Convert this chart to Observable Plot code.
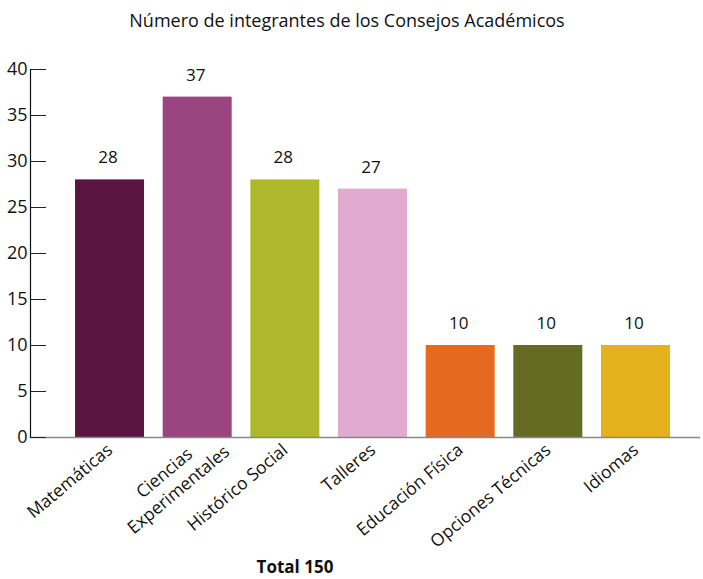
<!DOCTYPE html>
<html>
<head>
<meta charset="utf-8">
<script src="https://cdn.jsdelivr.net/npm/d3@7"></script>
<script src="https://cdn.jsdelivr.net/npm/@observablehq/plot@0.6"></script>
<style>
  html, body { margin: 0; padding: 0; background: #fff; }
  body { width: 703px; height: 579px; position: relative; overflow: hidden; font-family: "Open Sans", sans-serif; }
  #title { position: absolute; top: 8px; left: 0; width: 694px; text-align: center; font-size: 18px; line-height: 24px; color: #111; }
  #chart { position: absolute; top: 42px; left: 0; }
  #caption { position: absolute; top: 557px; left: 0; width: 590px; text-align: center; font-size: 17px; line-height: 20px; font-weight: bold; color: #111; }
</style>
</head>
<body>
<div id="title">Número de integrantes de los Consejos Académicos</div>
<div id="chart"></div>
<div id="caption">Total 150</div>
<script>
const categories = ["Matemáticas", "Ciencias\nExperimentales", "Histórico Social", "Talleres", "Educación Física", "Opciones Técnicas", "Idiomas"];
const values = [28, 37, 28, 27, 10, 10, 10];
const colors = ["#5a1540", "#9a4580", "#adb92a", "#e0abcf", "#e5691f", "#666b24", "#e5b11d"];
const yTicks = [0, 5, 10, 15, 20, 25, 30, 35, 40];

const data = categories.map((c, i) => ({category: c, value: values[i], color: colors[i]}));
const twoLine = categories.filter(c => c.includes("\n"));

const W = 703, H = 537, mL = 30, mR = 3;
const chart = Plot.plot({
  width: W,
  height: H,
  marginLeft: mL,
  marginRight: mR,
  marginTop: 27,
  marginBottom: 142,
  style: {fontFamily: "'Open Sans', sans-serif", fontSize: "17px", color: "#111", background: "#fff"},
  x: {domain: categories, range: [65.7, 679.3], paddingInner: 0.213, paddingOuter: 0.1065, round: false, label: null},
  y: {domain: [0, 40], label: null},
  marks: [
    Plot.barY(data, {x: "category", y: "value", fill: "color"}),
    Plot.text(data, {x: "category", y: "value", text: d => String(d.value), dy: -22, dx: -2, fontSize: 17, fill: "#111"}),
    Plot.ruleY([0], {stroke: "#888", strokeWidth: 1.5}),
    Plot.ruleY(yTicks, {y: d => d, stroke: "#222", insetRight: W - mL - mR - 16}),
    Plot.frame({anchor: "left", stroke: "#111", strokeWidth: 1.2}),
    Plot.axisY({ticks: yTicks, tickSize: 0, tickPadding: 3, fontSize: 18, label: null}),
    Plot.axisX({tickSize: 0, tickPadding: 10, tickRotate: -40, fontSize: 17.5, label: null,
      tickFormat: d => d.includes("\n") ? "" : d}),
    Plot.text(twoLine, {x: d => d, y: () => 0, text: d => d, rotate: -40, textAnchor: "middle", lineAnchor: "middle",
      dx: -27, dy: 43, fontSize: 17.5, lineHeight: 1.25, fill: "#111"})
  ]
});
document.getElementById("chart").appendChild(chart);
</script>
</body>
</html>
